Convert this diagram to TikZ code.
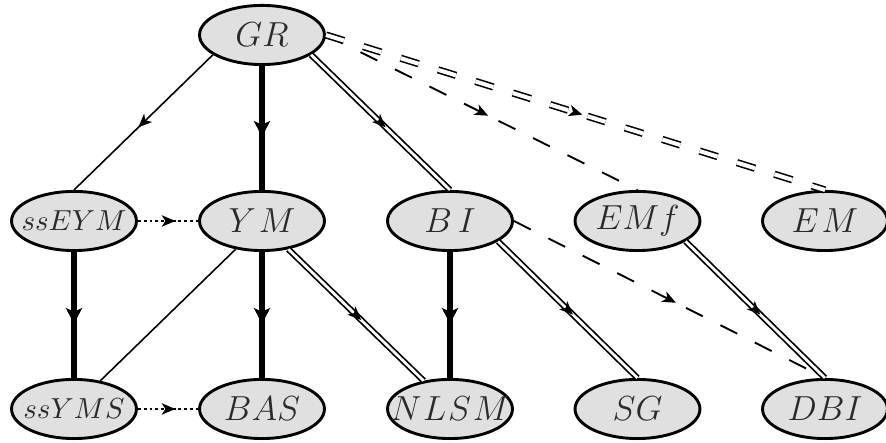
\documentclass[tikz,border=0pt]{standalone}
\usetikzlibrary{shapes.geometric,decorations.markings}
\definecolor{nodefill}{HTML}{E0E0E0}
\definecolor{labelink}{HTML}{2A2A2A}
\newcommand\lbl[1]{\makebox[0pt]{\color{labelink}\large$#1$}}
\newcommand\slbl[1]{\makebox[0pt]{\color{labelink}\normalsize$#1$}}
\begin{document}
\begin{tikzpicture}[x=0.345pt,y=-0.345pt,
  theory/.style={ellipse,draw=black,fill=nodefill,line width=1pt,
    minimum width=43.1pt,minimum height=20.4pt,inner sep=0pt},
  midarr/.style={postaction={decorate},decoration={markings,
    mark=at position 0.5 with {\fill[black,solid] (2.5pt,0) -- (-2.2pt,2pt) -- (-0.9pt,0) -- (-2.2pt,-2pt) -- cycle;}}},
  bigarr/.style={postaction={decorate},decoration={markings,
    mark=at position 0.5 with {\fill[black,solid] (3pt,0) -- (-2.5pt,2.9pt) -- (-1.1pt,0) -- (-2.5pt,-2.9pt) -- cycle;}}},
  plainedge/.style={line width=0.55pt},
  heavyedge/.style={line width=2.2pt},
  dbledge/.style={line width=0.6pt,double=white,double distance=0.95pt},
  dashedge/.style={line width=0.65pt,dash pattern=on 6.5pt off 6.8pt},
  dbldashedge/.style={line width=0.55pt,double=white,double distance=1.4pt,dash pattern=on 6.5pt off 7pt},
  dotedge/.style={line width=0.7pt,dash pattern=on 1pt off 1pt}
]
\useasboundingbox (0,0) rectangle (886,443);
% nodes
\node[theory] (GR)    at (262,35)   {\lbl{GR}};
\node[theory] (ssEYM) at (74,221)   {\slbl{ssEYM}};
\node[theory] (YM)    at (262,221)  {\lbl{Y\kern1pt M}};
\node[theory] (BI)    at (450,221)  {\lbl{B\kern2pt I}};
\node[theory] (EMf)   at (637.5,221){\lbl{EMf}};
\node[theory] (EM)    at (825,221)  {\lbl{E\kern1pt M}};
\node[theory] (ssYMS) at (74,409)   {\slbl{ssYMS}};
\node[theory] (BAS)   at (262,409)  {\lbl{BAS}};
\node[theory] (NLSM)  at (450,409)  {\lbl{N\kern0.6pt L\kern0.6pt S\kern0.6pt M}};
\node[theory] (SG)    at (637.5,409){\lbl{SG}};
\node[theory] (DBI)   at (825,409)  {\lbl{DBI}};
% edges
\draw[plainedge,midarr] (GR.202) -- (ssEYM.north);
\draw[heavyedge,bigarr] (GR.south) -- (YM.north);
\draw[dbledge,midarr] (GR.-22) -- (BI.north);
\draw[dashedge,midarr] (GR.east) -- (EMf.north);
\draw[dbldashedge,midarr] (GR.east) -- (EM.north);
\draw[dotedge,midarr] (ssEYM.east) -- (YM.west);
\draw[heavyedge,bigarr] (ssEYM.south) -- (ssYMS.north);
\draw[plainedge] (YM.227) -- (ssYMS.47);
\draw[heavyedge,bigarr] (YM.south) -- (BAS.north);
\draw[dbledge,midarr] (YM.-47) -- (NLSM.133);
\draw[heavyedge,bigarr] (BI.south) -- (NLSM.north);
\draw[dbledge,midarr] (BI.-23) -- (SG.north);
\draw[dashedge,midarr] (BI.east) -- (DBI.north);
\draw[dbledge,midarr] (EMf.-23) -- (DBI.north);
\draw[dotedge,midarr] (ssYMS.east) -- (BAS.west);
\end{tikzpicture}
\end{document}
